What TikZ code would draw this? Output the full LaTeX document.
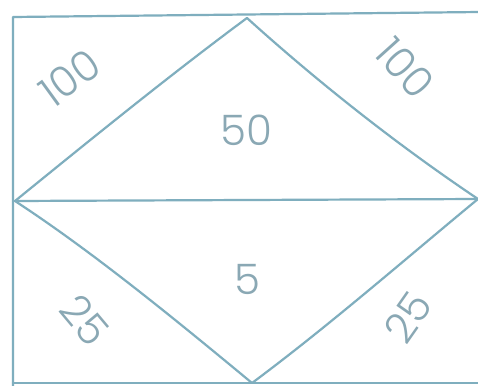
\documentclass[tikz,border=0pt]{standalone}
\usepackage{fontspec}
\setmainfont{Poppins}[UprightFont={* Light}]
\definecolor{pen}{HTML}{7FAEBE}
\definecolor{ink}{HTML}{8AA8B4}
\begin{document}
\begin{tikzpicture}[x=1pt,y=-1pt,
  edge/.style={draw=pen,line width=2.2pt,line cap=round,line join=round},
  num/.style={text=ink,font=\fontsize{42}{42}\selectfont,inner sep=0pt}]
\useasboundingbox (0,0) rectangle (478,385);
\fill[white] (0,0) rectangle (478,385);
% corners and vertices
\coordinate (tl) at (13,17);
\coordinate (tr) at (480,12);
\coordinate (bl) at (13,386);
\coordinate (br) at (480,383);
\coordinate (bl2) at (13,383);
\coordinate (top) at (247,18);
\coordinate (lft) at (15,201);
\coordinate (rgt) at (478,199);
\coordinate (bot) at (252,383);
% frame
\draw[edge] (tr) -- (tl) -- (bl);
\draw[edge] (bl2) -- (br);
\draw[edge] (lft) -- (rgt);
% diamonds
\draw[edge] (lft) .. controls (90,140) and (170,75) .. (top);
\draw[edge] (top) .. controls (310,75) and (390,140) .. (rgt);
\draw[edge] (lft) .. controls (90,250) and (170,315) .. (bot);
\draw[edge] (bot) .. controls (330,325) and (410,255) .. (rgt);
% labels
\node[num,rotate=36] (a) at (70,78) {100};
\node[num,rotate=-48] (b) at (405,68) {100};
\node[num] (c) at (246,130) {50};
\node[num] (d) at (247,279) {5};
\node[num,rotate=-50] (e) at (85,320) {25};
\node[num,rotate=55] (f) at (408,317) {25};
\end{tikzpicture}
\end{document}
